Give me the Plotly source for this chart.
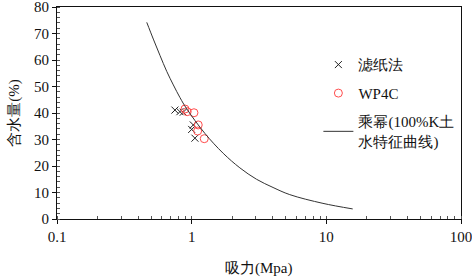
import plotly.graph_objects as go

# Filter paper method (滤纸法)
fp_suction = [0.751, 0.818, 0.866, 1.028, 1.000, 1.057]
fp_water = [41.1, 40.5, 40.3, 35.5, 33.8, 30.5]

# WP4C
wp_suction = [0.892, 0.927, 1.04, 1.119, 1.107, 1.24]
wp_water = [41.5, 40.5, 40.1, 35.5, 33.2, 30.3]

# Power fit curve (乘幂)
curve_suction = [0.464, 0.519, 0.582, 0.653, 0.731, 0.819, 0.918, 1.254, 1.714,
                 2.28, 3.03, 4.02, 5.35, 9.44, 15.7]
curve_water = [74.2, 67.9, 61.7, 55.7, 50.6, 45.8, 41.6, 32.3, 24.8,
               19.3, 15.0, 11.9, 9.2, 5.9, 3.8]

x_tickvals = [0.1, 1, 10, 100]
x_ticktext = ["0.1", "1", "10", "100"]
y_tickvals = [0, 10, 20, 30, 40, 50, 60, 70, 80]

FONT = "Liberation Serif"

fig = go.Figure()
fig.add_trace(go.Scatter(
    x=fp_suction, y=fp_water, mode="markers", name="滤纸法",
    legendgroup="a",
    marker=dict(symbol="x-thin-open", size=7, color="#222222",
                line=dict(color="#222222", width=1)),
))
fig.add_trace(go.Scatter(
    x=wp_suction, y=wp_water, mode="markers", name="WP4C",
    legendgroup="b",
    marker=dict(symbol="circle-open", size=8, color="#ff4d4d",
                line=dict(color="#ff4d4d", width=1)),
))
fig.add_trace(go.Scatter(
    x=curve_suction, y=curve_water, mode="lines", name="乘幂(100%K土<br>水特征曲线)",
    legendgroup="c",
    line=dict(color="#333333", width=1, shape="spline"),
))

fig.update_layout(
    width=472, height=278,
    margin=dict(l=57, r=11, t=7, b=59, autoexpand=False),
    paper_bgcolor="white", plot_bgcolor="white",
    font=dict(family=FONT, size=14, color="#111111"),
    showlegend=True,
    legend=dict(x=0.647, y=0.805, xanchor="left", yanchor="top",
                bgcolor="rgba(0,0,0,0)", font=dict(family=FONT, size=15),
                tracegroupgap=6, traceorder="grouped", itemwidth=30),
    xaxis=dict(
        type="log", range=[-1, 2], automargin=False, ticklabeloverflow="allow",
        tickvals=x_tickvals, ticktext=x_ticktext,
        ticks="outside", ticklen=4, tickcolor="#111111",
        showline=True, linecolor="#111111", linewidth=1, mirror=True,
        showgrid=False, zeroline=False,
        tickfont=dict(family=FONT, size=15),
        minor=dict(ticks="inside", ticklen=3, tickcolor="#555555", dtick="D1", showgrid=False),
    ),
    yaxis=dict(
        range=[0, 80], tickvals=y_tickvals, automargin=False, ticklabeloverflow="allow",
        ticks="outside", ticklen=4, tickcolor="#111111",
        showline=True, linecolor="#111111", linewidth=1, mirror=True,
        showgrid=False, zeroline=False,
        tickfont=dict(family=FONT, size=15),
        minor=dict(ticks="inside", ticklen=3, tickcolor="#555555", dtick=2, showgrid=False),
    ),
    annotations=[
        dict(text="吸力(Mpa)", xref="paper", yref="paper", x=0.5, y=-0.235,
             xanchor="center", yanchor="middle", showarrow=False,
             font=dict(family=FONT, size=15)),
        dict(text="含水量(%)", xref="paper", yref="paper", x=-0.107, y=0.5,
             xanchor="center", yanchor="middle", showarrow=False, textangle=-90,
             font=dict(family=FONT, size=15)),
    ],
)

fig.write_html("out.html", config={"displayModeBar": False},
               post_script="document.body.style.margin='0px';")
